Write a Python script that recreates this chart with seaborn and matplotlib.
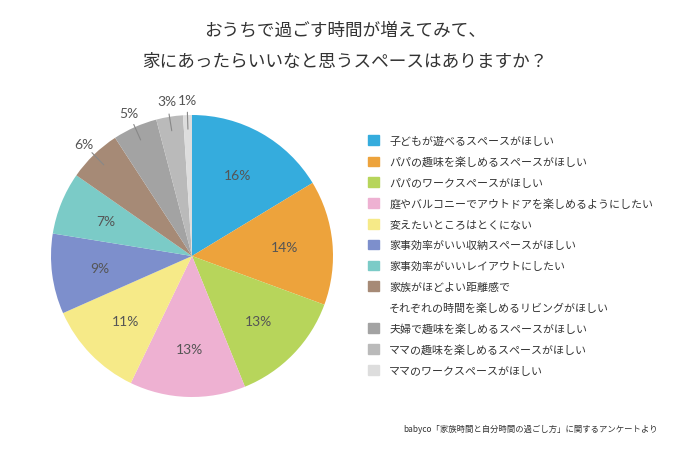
import numpy as np
import matplotlib
matplotlib.use("Agg")
import matplotlib.pyplot as plt
import matplotlib.patches as mpatches
import seaborn as sns

# survey answers (share in %), clockwise from 12 o'clock
answers = [
    "子どもが遊べるスペースがほしい",
    "パパの趣味を楽しめるスペースがほしい",
    "パパのワークスペースがほしい",
    "庭やバルコニーでアウトドアを楽しめるようにしたい",
    "変えたいところはとくにない",
    "家事効率がいい収納スペースがほしい",
    "家事効率がいいレイアウトにしたい",
    "家族がほどよい距離感で\nそれぞれの時間を楽しめるリビングがほしい",
    "夫婦で趣味を楽しめるスペースがほしい",
    "ママの趣味を楽しめるスペースがほしい",
    "ママのワークスペースがほしい",
]
shares = [16, 14, 13, 13, 11, 9, 7, 6, 5, 3, 1]
colors = ["#35ACDD", "#EDA33C", "#B7D55B", "#EEB1D2", "#F6EA88", "#7D8FCC",
          "#7BCBC7", "#A68A76", "#A3A3A3", "#BABABA", "#DDDDDD"]

title = "おうちで過ごす時間が増えてみて、\n家にあったらいいなと思うスペースはありますか？"
source = "babyco「家族時間と自分時間の過ごし方」に関するアンケートより"

sns.set_theme(style="white")
plt.rcParams["font.family"] = ["Noto Sans CJK JP", "DejaVu Sans"]

text_col = "#555555"
small = 6  # below this the label goes outside with a leader line

fig = plt.figure(figsize=(6.9, 4.6), dpi=100)
ax = fig.add_axes([51 / 690, (460 - 398) / 460, 282 / 690, 282 / 460])

wedges, _ = ax.pie(shares, colors=colors, startangle=90, counterclock=False,
                   wedgeprops=dict(linewidth=0))
ax.set_xlim(-1, 1)
ax.set_ylim(-1, 1)
ax.set_aspect("equal")

for w, s in zip(wedges, shares):
    mid = np.deg2rad((w.theta1 + w.theta2) / 2)
    if s > small:
        ax.text(0.66 * np.cos(mid), 0.66 * np.sin(mid), f"{s}%", ha="center",
                va="center", fontsize=10, color=text_col, family="Lato")
    else:
        ax.plot([0.9 * np.cos(mid), 1.02 * np.cos(mid)],
                [0.9 * np.sin(mid), 1.02 * np.sin(mid)],
                color="#888888", lw=0.8, clip_on=False)
        ax.text(1.1 * np.cos(mid), 1.11 * np.sin(mid), f"{s}%", ha="center",
                va="center", fontsize=10, color=text_col, family="Lato")

# legend: split the two-line answer so the square stays on the first line
handles, labels = [], []
for a, c in zip(answers, colors):
    parts = a.split("\n")
    handles.append(mpatches.Patch(color=c))
    labels.append(parts[0])
    for p in parts[1:]:
        handles.append(mpatches.Patch(color="none"))
        labels.append(p)

fig.legend(handles, labels, loc="upper left", bbox_to_anchor=(363 / 690, 1 - 131 / 460),
           frameon=False, fontsize=7.9, handlelength=0.95, handleheight=0.95,
           handletextpad=0.95, labelspacing=0.93, borderpad=0, labelcolor="#333333")

fig.suptitle(title, x=0.5, y=1 - 22 / 460, fontsize=12.7, color="#333333",
             linespacing=1.9, va="top")
fig.text(658 / 690, 1 - 429 / 460, source, ha="right", va="center",
         fontsize=6.0, color="#333333")

fig.savefig("out.png", dpi=100, facecolor="white")
